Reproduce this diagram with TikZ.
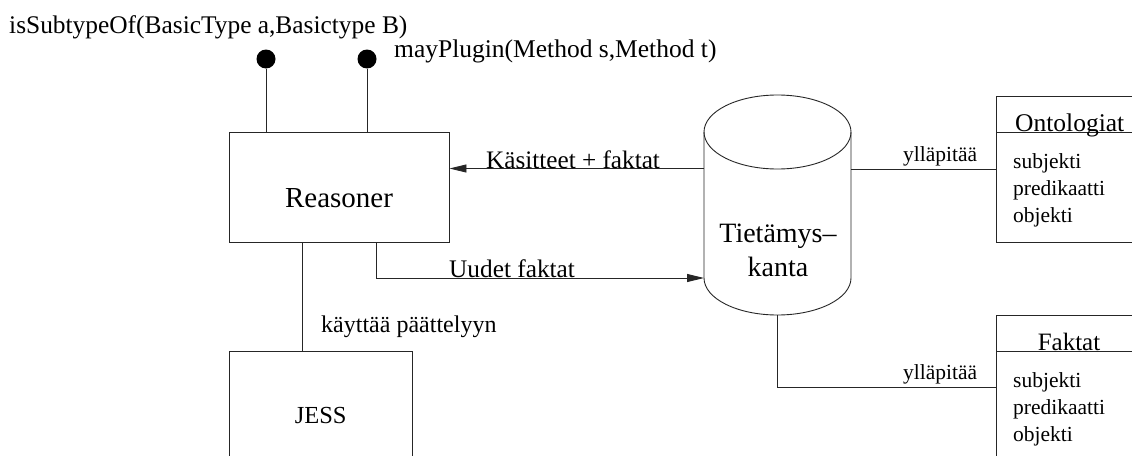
\documentclass[tikz,border=0pt]{standalone}
\usepackage{fontspec}
\setmainfont{Liberation Serif}
\usetikzlibrary{arrows.meta,calc}
\tikzset{
  ln/.style={line width=0.9pt, draw=black!85},
  boxnode/.style={ln, draw, rectangle, inner sep=0pt, fill=none},
  arr/.style={ln, -{Triangle[length=17pt,width=8pt]}},
  pin/.style={circle, fill=black, inner sep=0pt, minimum size=19pt},
  txt/.style={inner sep=0pt, anchor=base west},
  ctxt/.style={inner sep=0pt, anchor=base},
}
\newcommand{\fs}[1]{\fontsize{#1}{#1}\selectfont}
\begin{document}
\begin{tikzpicture}[x=1pt,y=-1pt]
\useasboundingbox (0,0) rectangle (1132,455);
\clip (0,0) rectangle (1132,455);

% boxes
\node[boxnode, minimum width=219.5pt, minimum height=109.5pt] (reasoner) at (339.25,187.25) {};
\node[boxnode, minimum width=182.5pt, minimum height=128.5pt] (jess) at (320.75,415.75) {};
\node[boxnode, minimum width=150pt, minimum height=146pt, anchor=north west] (onto) at (996,96) {};
\node[boxnode, minimum width=150pt, minimum height=165pt, anchor=north west] (fakt) at (996,315) {};
\draw[ln] (996,132.5) -- (1146,132.5);
\draw[ln] (996,351.5) -- (1146,351.5);

% cylinder
\draw[ln] (704,132) -- (704,278) arc[start angle=180, end angle=0, x radius=73.5, y radius=37] -- (851,132);
\draw[ln] (777.5,132) ellipse [x radius=73.5, y radius=37];
\coordinate (kbL1) at (704,168.5);
\coordinate (kbL2) at (704,278);
\coordinate (kbR) at (851,169);
\coordinate (kbB) at (777.5,315);

% lollipops
\node[pin] (p1) at (266,59) {};
\node[pin] (p2) at (367,59) {};
\draw[ln] (p1) -- (p1 |- reasoner.north);
\draw[ln] (p2) -- (p2 |- reasoner.north);

% connectors
\draw[arr] (kbL1) -- (reasoner.east |- kbL1);
\draw[arr] ([xshift=-73.5pt]reasoner.south east) |- (kbL2);
\draw[ln] ([xshift=-18pt]jess.north) -- ([xshift=-18pt]jess.north |- reasoner.south);
\draw[ln] (kbR) -- (onto.west |- kbR);
\draw[ln] (kbB) |- ([yshift=-72.5pt]fakt.north west);

% texts
\node[txt] (t1) at (9,33) {\fs{25.4}isSubtypeOf(BasicType a,Basictype B)};
\node[txt] (t2) at (394,57) {\fs{25.5}mayPlugin(Method s,Method t)};
\node[ctxt] (t3) at (339,207) {\fs{29}Reasoner};
\node[ctxt] (t4) at (320.75,423) {\fs{24.5}JESS};
\node[txt] (t5) at (486,168) {\fs{25.2}Käsitteet + faktat};
\node[txt] (t6) at (449,277) {\fs{25.3}Uudet faktat};
\node[txt] (t7) at (321,332) {\fs{24}käyttää päättelyyn};
\node[ctxt] (t8) at (778,242) {\fs{28}Tietämys–};
\node[ctxt] (t9) at (778,276) {\fs{28}kanta};
\node[txt] (t10) at (903,161) {\fs{21.5}ylläpitää};
\node[txt] (t11) at (903,379) {\fs{21.5}ylläpitää};
\node[txt] (t12) at (1015,131) {\fs{25.5}Ontologiat};
\node[txt] (t13) at (1013,168) {\fs{21.5}subjekti};
\node[txt] (t14) at (1013,195) {\fs{21.5}predikaatti};
\node[txt] (t15) at (1013,222) {\fs{21.5}objekti};
\node[ctxt] (t16) at (1069,350) {\fs{25}Faktat};
\node[txt] (t17) at (1013,387) {\fs{21.5}subjekti};
\node[txt] (t18) at (1013,414) {\fs{21.5}predikaatti};
\node[txt] (t19) at (1013,441) {\fs{21.5}objekti};
\end{tikzpicture}
\end{document}
